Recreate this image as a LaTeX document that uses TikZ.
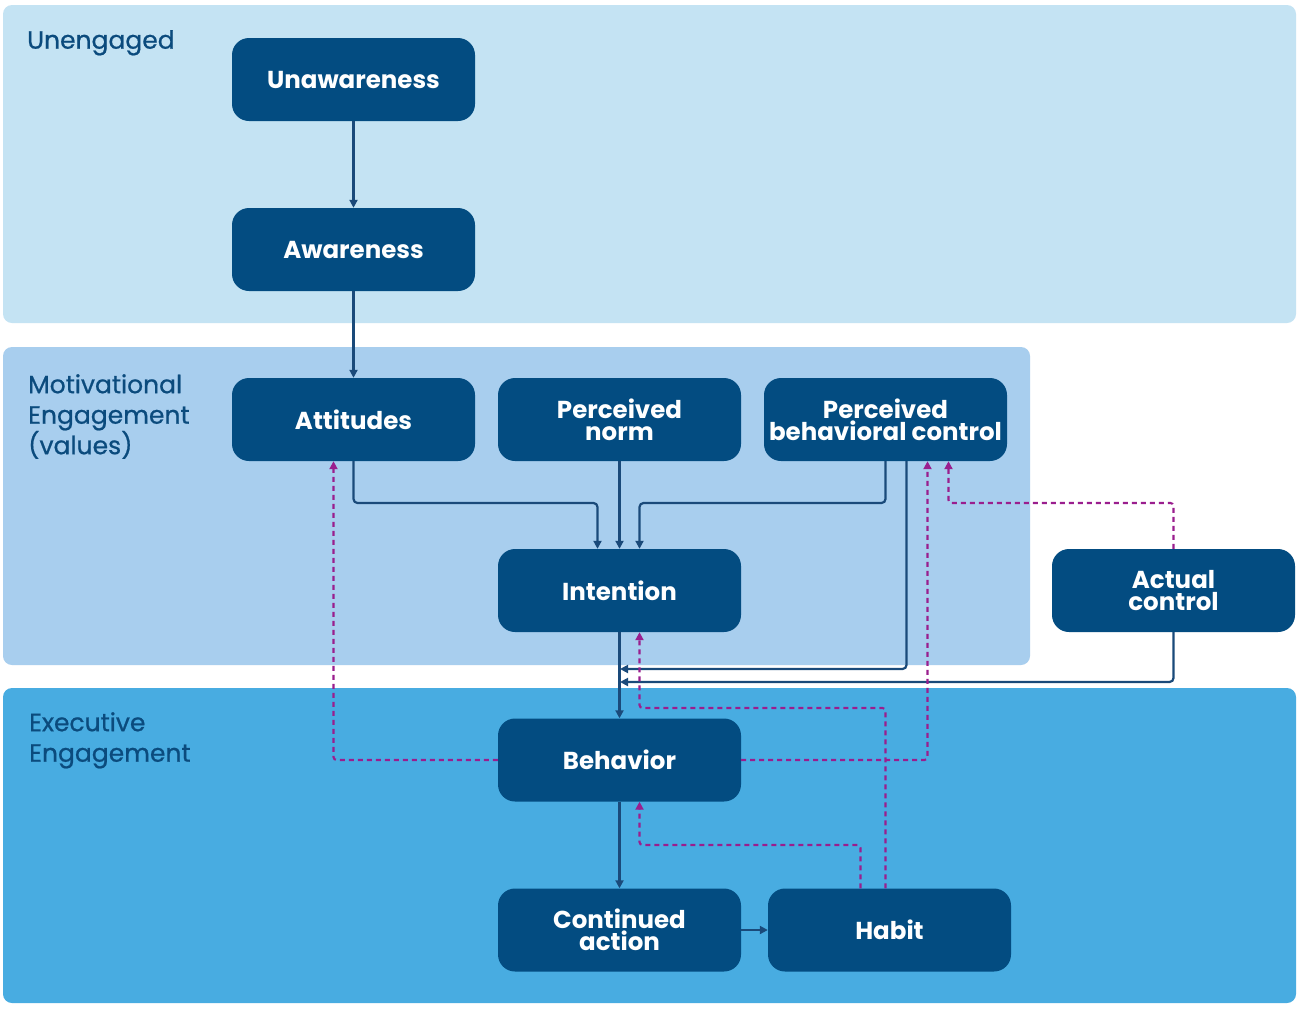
\documentclass[tikz,border=0pt]{standalone}
\usepackage{fontspec}
\setmainfont{Poppins}
\newfontfamily\lblfont{Poppins}[FakeBold=0.7]
\usetikzlibrary{arrows.meta}
\definecolor{bgA}{HTML}{C4E3F3}
\definecolor{bgB}{HTML}{A8CEEE}
\definecolor{bgC}{HTML}{48ACE1}
\definecolor{boxc}{HTML}{034C81}
\definecolor{lblc}{HTML}{0B4B7D}
\definecolor{linec}{HTML}{1A4A7A}
\definecolor{dashc}{HTML}{9A1E8E}
\tikzset{
  panel/.style={rounded corners=9pt},
  stepbox/.style={fill=boxc, rounded corners=17pt, minimum width=243pt, minimum height=83pt,
    inner sep=0pt, text=white, align=center,
    font=\fontsize{24.5}{22}\selectfont\bfseries},
  lbl/.style={anchor=north west, text=lblc, align=left, inner sep=0pt,
    font=\lblfont\fontsize{25}{30.5}\selectfont},
  conn/.style={draw=linec, line width=2.2pt, rounded corners=4pt,
    -{Triangle[length=8pt,width=8pt]}},
  fb/.style={draw=dashc, line width=2.1pt, dash pattern=on 5pt off 4pt, rounded corners=3pt,
    -{Triangle[length=8pt,width=8pt]}}
}
\begin{document}
\begin{tikzpicture}[x=1pt,y=-1pt]
\useasboundingbox (0,0) rectangle (1300,1010);
\fill[white] (0,0) rectangle (1300,1010);
% panels
\fill[bgA, panel] (3,5) rectangle (1296,323);
\fill[bgB, panel] (3,347) rectangle (1030,665);
\fill[bgC, panel] (3,688) rectangle (1296,1003);
% panel labels
\node[lbl] (lu) at (27,30) {Unengaged};
\node[lbl] (lm) at (28,374) {Motivational\\Engagement\\(values)};
\node[lbl] (le) at (29,712) {Executive\\Engagement};
% boxes
\node[stepbox] (unaw) at (353.5,79.5) {Unawareness};
\node[stepbox] (aw) at (353.5,249.5) {Awareness};
\node[stepbox] (att) at (353.5,419.5) {Attitudes};
\node[stepbox] (pn) at (619.5,419.5) {Perceived\\norm};
\node[stepbox] (pbc) at (885.5,419.5) {Perceived\\behavioral control};
\node[stepbox] (int) at (619.5,590.5) {Intention};
\node[stepbox] (ac) at (1173.5,590.5) {Actual\\control};
\node[stepbox] (beh) at (619.5,760) {Behavior};
\node[stepbox] (ca) at (619.5,930) {Continued\\action};
\node[stepbox] (hab) at (889.5,930) {Habit};
% junction points on the intention-behaviour line
\coordinate (j1) at (620,669);
\coordinate (j2) at (620,682);
% solid connectors
\draw[conn] (unaw.south) -- (aw.north);
\draw[conn] (aw.south) -- (att.north);
\draw[conn] (att.south) |- (450,503) -| ([xshift=-22pt]int.north);
\draw[conn] (pn.south) -- (int.north);
\draw[conn] (pbc.south) |- (750,503) -| ([xshift=20pt]int.north);
\draw[conn] ([xshift=21pt]pbc.south) |- (j1);
\draw[conn] (ac.south) |- (j2);
\draw[conn] (int.south) -- (beh.north);
\draw[conn] (beh.south) -- (ca.north);
\draw[conn] (ca.east) -- (hab.west);
% dashed feedback connectors
\draw[fb] (beh.west) -| ([xshift=-20pt]att.south);
\draw[fb] (beh.east) -| ([xshift=42pt]pbc.south);
\draw[fb] (ac.north) |- (1000,503) -| ([xshift=63pt]pbc.south);
\draw[fb] ([xshift=-4pt]hab.north) |- (700,708) -| ([xshift=20pt]int.south);
\draw[fb] ([xshift=-29pt]hab.north) |- (700,845) -| ([xshift=20pt]beh.south);
\end{tikzpicture}
\end{document}
